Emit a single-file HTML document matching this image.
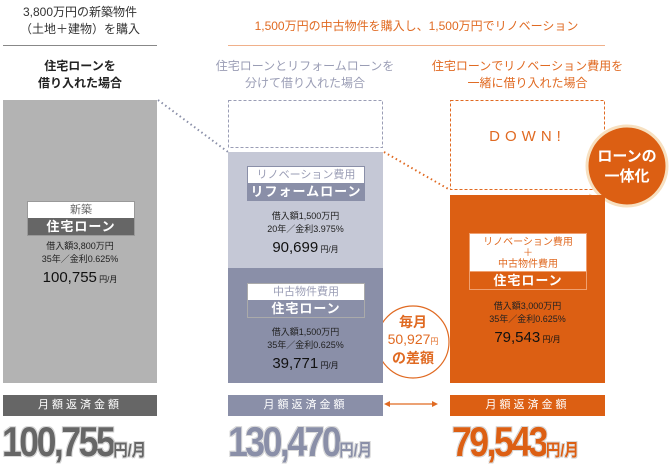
<!DOCTYPE html>
<html><head><meta charset="utf-8"><style>
body{margin:0;width:669px;height:470px;background:#fff;position:relative;overflow:hidden;font-family:"Liberation Sans","Noto Sans CJK JP",sans-serif}
.a{position:absolute}
.c{text-align:center}
.lbl{position:absolute;background:#fff;text-align:center;white-space:nowrap}
.lbl .t{font-size:11px;height:16px;line-height:16px}
.lbl .b{color:#fff;font-size:13px;font-weight:bold;letter-spacing:1px;height:17px;line-height:17px}
.small{font-size:9px;line-height:13px;color:#222}
.amt{font-size:15px;color:#111;margin-top:3px}
.amt span{font-size:8px}
.bar{position:absolute;top:395px;height:21px;line-height:21px;color:#fff;font-size:11px;letter-spacing:3px;text-align:center}
.big{position:absolute;top:418px;font-size:42px;font-weight:bold;letter-spacing:-3px;transform:scaleX(0.85);transform-origin:left;white-space:nowrap;text-shadow:0 0 2px #fff,1px 1px 0 #ccc,-1px -1px 0 #ccc,1px -1px 0 #ccc,-1px 1px 0 #ccc}
.big span{font-size:17px;letter-spacing:0}
</style></head><body>
<div class="a c" style="left:3px;width:154px;top:4px;font-size:12px;line-height:17px;color:#333">3,800万円の新築物件<br>（土地＋建物）を購入</div>
<div class="a" style="left:3px;top:45px;width:154px;height:1px;background:#888"></div>
<div class="a c" style="left:228px;width:377px;top:17px;font-size:12px;color:#e06a22">1,500万円の中古物件を購入し、1,500万円でリノベーション</div>
<div class="a" style="left:228px;top:45px;width:377px;height:1px;background:#f0b08a"></div>
<div class="a c" style="left:3px;width:154px;top:58px;font-size:12px;font-weight:bold;line-height:17px;color:#222">住宅ローンを<br>借り入れた場合</div>
<div class="a c" style="left:210px;width:190px;top:58px;font-size:12px;line-height:17px;color:#9a9db5">住宅ローンとリフォームローンを<br>分けて借り入れた場合</div>
<div class="a c" style="left:430px;width:195px;top:58px;font-size:12px;line-height:17px;color:#e06a22">住宅ローンでリノベーション費用を<br>一緒に借り入れた場合</div>

<svg class="a" style="left:0;top:0" width="669" height="470">
<line x1="158" y1="100" x2="228" y2="152" stroke="#8a8fa8" stroke-width="2" stroke-dasharray="1.5,3"/>
<line x1="384" y1="152" x2="450" y2="190" stroke="#e06a22" stroke-width="2" stroke-dasharray="1.5,3"/>
<rect x="228.5" y="100.5" width="154" height="47" fill="none" stroke="#9a9db5" stroke-dasharray="3,2"/>
<rect x="450.5" y="100.5" width="154" height="89" fill="none" stroke="#e06a22" stroke-dasharray="3,2"/>
<line x1="386" y1="404" x2="436" y2="404" stroke="#e06a22" stroke-width="1.2"/>
<path d="M384 404l6-3v6z M438 404l-6-3v6z" fill="#e06a22"/>
<circle cx="413" cy="342" r="36" fill="#fff" stroke="#e06a22" stroke-width="1.2"/>
<path d="M590 195 L582 222 L602 202 Z" fill="#dc5f13" stroke="#f5d9b5" stroke-width="2"/>
<circle cx="627" cy="166" r="40" fill="#dc5f13" stroke="#f7e0c0" stroke-width="3"/>
<path d="M591 196 L584 219 L601 202 Z" fill="#dc5f13"/>
</svg>
<div class="a" style="left:3px;top:100px;width:154px;height:283px;background:#b3b3b3"></div>
<div class="a" style="left:228px;top:152px;width:155px;height:116px;background:#c5c8d6"></div>
<div class="a" style="left:228px;top:268px;width:155px;height:115px;background:#8a8fa8"></div>
<div class="a" style="left:450px;top:195px;width:155px;height:188px;background:#dc5f13"></div>
<div class="a c" style="left:450px;width:155px;top:128px;font-size:15px;letter-spacing:5px;color:#e06a22">DOWN!</div>

<div class="lbl" style="left:27px;top:201px;width:106px;border:1px solid #999"><div class="t" style="color:#666">新築</div><div class="b" style="background:#666">住宅ローン</div></div>
<div class="a c" style="left:3px;width:154px;top:240px"><div class="small">借入額3,800万円<br>35年／金利0.625%</div><div class="amt">100,755<span> 円/月</span></div></div>

<div class="lbl" style="left:247px;top:166px;width:116px;border:1px solid #8a8fa8"><div class="t" style="color:#9a9db5">リノベーション費用</div><div class="b" style="background:#8a8fa8">リフォームローン</div></div>
<div class="a c" style="left:228px;width:155px;top:210px"><div class="small">借入額1,500万円<br>20年／金利3.975%</div><div class="amt">90,699<span> 円/月</span></div></div>
<div class="lbl" style="left:247px;top:283px;width:116px;border:1px solid #aaa"><div class="t" style="color:#9a9db5">中古物件費用</div><div class="b" style="background:#8a8fa8">住宅ローン</div></div>
<div class="a c" style="left:228px;width:155px;top:326px"><div class="small">借入額1,500万円<br>35年／金利0.625%</div><div class="amt">39,771<span> 円/月</span></div></div>

<div class="lbl" style="left:469px;top:233px;width:116px;border:1px solid #f0a070"><div class="t" style="color:#e06a22;height:auto;line-height:11px;padding:3px 0 1px;font-size:10px">リノベーション費用<br>＋<br>中古物件費用</div><div class="b" style="background:#dc5f13;border-top:1px solid #f0a070">住宅ローン</div></div>
<div class="a c" style="left:450px;width:155px;top:300px"><div class="small">借入額3,000万円<br>35年／金利0.625%</div><div class="amt">79,543<span> 円/月</span></div></div>

<div class="a c" style="left:377px;width:72px;top:314px;color:#e06a22;font-weight:bold;font-size:14px;line-height:17px">毎月<br><span style="font-weight:normal">50,927<small style="font-size:8px">円</small></span><br>の差額</div>
<div class="a c" style="left:587px;width:80px;top:147px;color:#fff;font-weight:bold;font-size:15px;line-height:20px">ローンの<br>一体化</div>

<div class="bar" style="left:3px;width:154px;background:#666">月額返済金額</div>
<div class="bar" style="left:228px;width:155px;background:#8a8fa8">月額返済金額</div>
<div class="bar" style="left:450px;width:155px;background:#dc5f13">月額返済金額</div>
<div class="big" style="left:2px;color:#666">100,755<span>円/月</span></div>
<div class="big" style="left:228px;color:#8a8fa8">130,470<span>円/月</span></div>
<div class="big" style="left:452px;color:#dc5f13">79,543<span>円/月</span></div>
</body></html>
